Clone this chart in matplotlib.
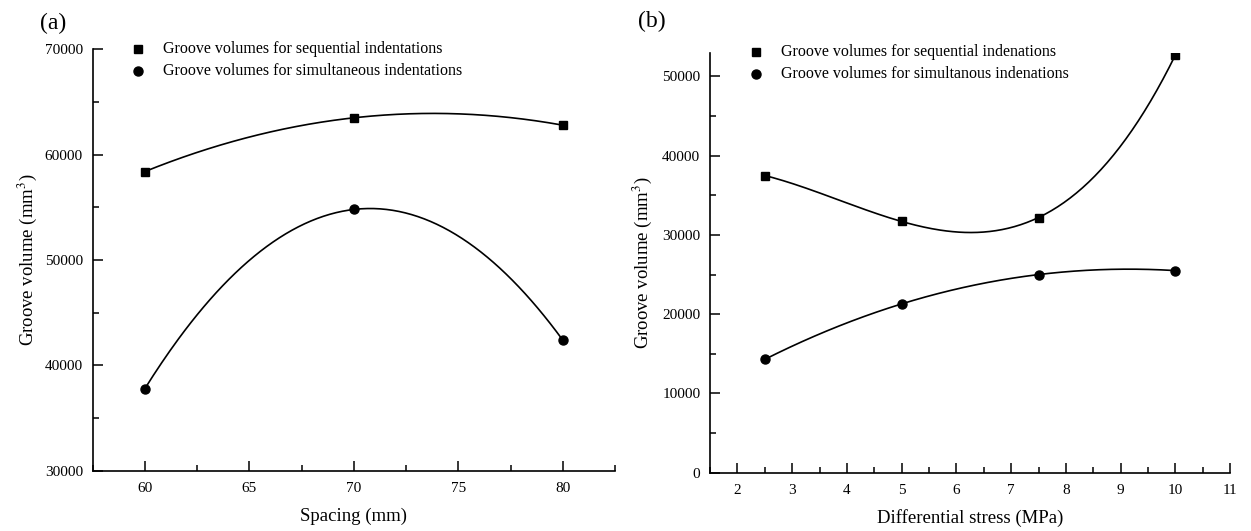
import numpy as np
import matplotlib
matplotlib.use("Agg")
import matplotlib.pyplot as plt
from matplotlib.ticker import MultipleLocator

plt.rcParams['font.family'] = ['Liberation Serif', 'DejaVu Serif']
plt.rcParams['mathtext.fontset'] = 'stix'

# (a) groove volume vs spacing
spacing = [60, 70, 80]
seq_a = [58400, 63500, 62800]
sim_a = [37800, 54800, 42400]

# (b) groove volume vs differential stress
stress = [2.5, 5, 7.5, 10]
seq_b = [37500, 31700, 32200, 52700]
sim_b = [14300, 21300, 25000, 25500]

lab_a = ["Groove volumes for sequential indentations",
         "Groove volumes for simultaneous indentations"]
lab_b = ["Groove volumes for sequential indenations",
         "Groove volumes for simultanous indenations"]


#smooth curve through the points (polynomial through all of them)
def smooth(x, y, n=200):
    x = np.asarray(x, float)
    c = np.polyfit(x, y, len(x)-1)
    xs = np.linspace(x[0], x[-1], n)
    return xs, np.polyval(c, xs)


def style_ax(ax):
    for s in ['top', 'right']:
        ax.spines[s].set_visible(False)
    for s in ['left', 'bottom']:
        ax.spines[s].set_linewidth(1.2)
    ax.tick_params(which='both', direction='in', labelsize=11, width=1.1)
    ax.tick_params(which='major', length=7)
    ax.tick_params(which='minor', length=4)
    ax.tick_params(axis='x', pad=8)
    ax.tick_params(axis='y', pad=7)


#hand placed legend, no frame
def key(ax, labs, x0, y0, dy):
    ax.plot([x0], [y0], 's', color='black', ms=6, transform=ax.transAxes, clip_on=False)
    ax.plot([x0], [y0-dy], 'o', color='black', ms=6.5, transform=ax.transAxes, clip_on=False)
    tx = x0 + 25.0/ax.bbox.width
    ax.text(tx, y0, labs[0], fontsize=11.5, va='center', ha='left', transform=ax.transAxes)
    ax.text(tx, y0-dy, labs[1], fontsize=11.5, va='center', ha='left', transform=ax.transAxes)


fig = plt.figure(figsize=(12.51, 5.31), dpi=100)
ax1 = fig.add_axes([0.0741, 0.1135, 0.4175, 0.7936])
ax2 = fig.add_axes([0.5676, 0.1098, 0.4157, 0.791])

for ax, xv, s1, s2 in [(ax1, spacing, seq_a, sim_a), (ax2, stress, seq_b, sim_b)]:
    xs, ys = smooth(xv, s1)
    ax.plot(xs, ys, color='black', lw=1.2)
    xs, ys = smooth(xv, s2)
    ax.plot(xs, ys, color='black', lw=1.2)
    ax.plot(xv, s1, 's', color='black', ms=6, ls='none')
    ax.plot(xv, s2, 'o', color='black', ms=6.5, ls='none')
    style_ax(ax)

ax1.set_xlim(57.5, 82.5)
ax1.set_ylim(30000, 70000)
ax1.xaxis.set_major_locator(MultipleLocator(5))
ax1.xaxis.set_minor_locator(MultipleLocator(2.5))
ax1.yaxis.set_major_locator(MultipleLocator(10000))
ax1.yaxis.set_minor_locator(MultipleLocator(5000))
ax1.set_xlabel("Spacing (mm)", fontsize=13.5, labelpad=9)
ax1.set_ylabel("Groove volume (mm$^3$)", fontsize=13.5, labelpad=4)
fig.text(0.032, 0.955, "(a)", fontsize=17, ha='left', va='center')

ax2.set_xlim(1.5, 11)
ax2.set_ylim(0, 53000)
ax2.xaxis.set_major_locator(MultipleLocator(1))
ax2.xaxis.set_minor_locator(MultipleLocator(0.5))
ax2.yaxis.set_major_locator(MultipleLocator(10000))
ax2.yaxis.set_minor_locator(MultipleLocator(5000))
ax2.set_xlabel("Differential stress (MPa)", fontsize=13.5, labelpad=9)
ax2.set_ylabel("Groove volume (mm$^3$)", fontsize=13.5, labelpad=6)
fig.text(0.51, 0.96, "(b)", fontsize=17, ha='left', va='center')

# legend spots in axes fraction (from the pixel positions)
key(ax1, lab_a, (137.7-92.7)/ax1.bbox.width, 1-(49-49.3)/ax1.bbox.height, 22.0/ax1.bbox.height)
key(ax2, lab_b, (755.7-710)/ax2.bbox.width, 1-(52.3-52.7)/ax2.bbox.height, 22.0/ax2.bbox.height)

fig.savefig("out.png", dpi=100)
